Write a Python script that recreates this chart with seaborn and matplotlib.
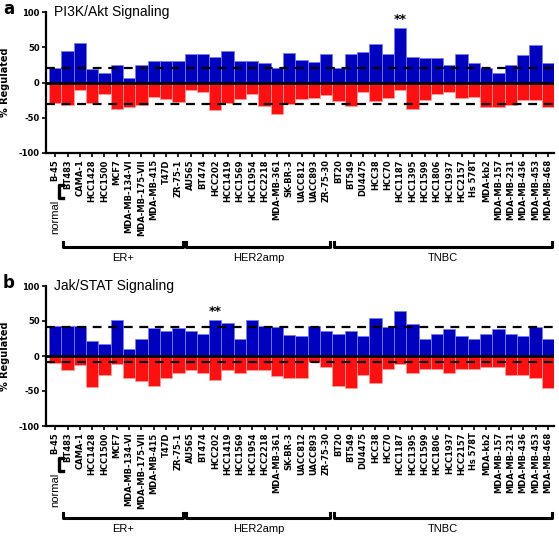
import matplotlib
matplotlib.use("Agg")
import matplotlib.pyplot as plt
import matplotlib.transforms as mtransforms
from matplotlib.lines import Line2D
import pandas as pd
import seaborn as sns

# cell lines (normal + ER+ + HER2amp + TNBC)
cell_lines = [
    "B-45",
    "BT483", "CAMA-1", "HCC1428", "HCC1500", "MCF7", "MDA-MB-134-VI",
    "MDA-MB-175-VII", "MDA-MB-415", "T47D", "ZR-75-1",
    "AU565", "BT474", "HCC202", "HCC1419", "HCC1569", "HCC1954", "HCC2218",
    "MDA-MB-361", "SK-BR-3", "UACC812", "UACC893", "ZR-75-30",
    "BT20", "BT549", "DU4475", "HCC38", "HCC70", "HCC1187", "HCC1395",
    "HCC1599", "HCC1806", "HCC1937", "HCC2157", "Hs 578T", "MDA-kb2",
    "MDA-MB-157", "MDA-MB-231", "MDA-MB-436", "MDA-MB-453", "MDA-MB-468",
]

# groups: (label, first index, last index)
groups = [("ER+", 1, 10), ("HER2amp", 11, 22), ("TNBC", 23, 40)]

# panel a - PI3K/Akt
pi3k_up = [21, 44, 56, 19, 14, 25, 6, 25, 31, 31, 31,
           41, 41, 36, 44, 31, 31, 28, 21, 42, 32, 29, 40,
           21, 41, 43, 55, 40, 77, 36, 35, 35, 25, 40, 28, 20,
           13, 25, 39, 53, 28]
pi3k_down = [-29, -32, -10, -29, -17, -38, -35, -32, -20, -24, -27,
             -10, -13, -39, -29, -24, -17, -34, -45, -30, -24, -22, -18,
             -26, -34, -14, -26, -22, -10, -37, -25, -17, -14, -22, -21, -35,
             -35, -32, -25, -25, -35]
pi3k_cut = (20, -30)
pi3k_star = "HCC1187"

# panel b - Jak/STAT
jak_up = [43, 43, 43, 22, 17, 51, 10, 25, 40, 36, 40,
          36, 32, 51, 47, 25, 51, 43, 41, 30, 28, 43, 36,
          31, 36, 28, 54, 42, 65, 46, 25, 31, 39, 28, 25, 31,
          39, 31, 28, 42, 25]
jak_down = [-10, -20, -13, -44, -27, -12, -31, -35, -43, -31, -24,
            -20, -24, -34, -20, -24, -20, -20, -29, -31, -31, -9, -16,
            -43, -45, -27, -38, -19, -12, -24, -19, -19, -24, -19, -19, -16,
            -16, -27, -27, -31, -45]
jak_cut = (42, -8)
jak_star = "HCC202"

BLUE = "#0000bf"
RED = "#ff1010"

plt.rcParams["font.family"] = ["DejaVu Sans"]

fig = plt.figure(figsize=(5.59, 5.36), dpi=100)
W, H = 559, 536


def fx(px):
    return px / W


def fy(py):
    return 1 - py / H


def draw_panel(rect, letter, title, up, down, cut, star, bracket_y):
    ax = fig.add_axes(rect)
    df = pd.DataFrame({"line": cell_lines, "up": up, "down": down})
    sns.barplot(data=df, x="line", y="up", color=BLUE, width=1.0,
                edgecolor="#7a7aff", linewidth=0.6, saturation=1, ax=ax)
    sns.barplot(data=df, x="line", y="down", color=RED, width=1.0,
                edgecolor="#ff9a9a", linewidth=0.6, saturation=1, ax=ax)
    ax.axhline(0, color="black", lw=2)
    for c in cut:
        ax.axhline(c, color="black", lw=1.6, ls=(0, (4, 3)))
    i = cell_lines.index(star)
    ax.text(i, up[i] + 3, "**", ha="center", va="bottom",
            fontsize=9, fontweight="bold")

    ax.set_xlim(-0.75, 40.5)
    ax.set_ylim(-100, 100)
    ax.set_yticks([-100, -50, 0, 50, 100])
    ax.set_yticklabels(["-100", "-50", "0", "50", "100"],
                       fontsize=6, fontweight="bold")
    ax.set_xlabel("")
    ax.set_ylabel("% Regulated", fontsize=7, fontweight="bold")
    ax.yaxis.set_label_coords(-36 / 508, 0.5)
    ax.set_xticks(range(len(cell_lines)))
    ax.set_xticklabels(cell_lines, rotation=90, fontsize=6,
                       fontweight="bold", ha="center", va="top")
    ax.tick_params(axis="x", length=3, width=1.2, pad=1.5)
    ax.tick_params(axis="y", length=3, width=1.2, pad=1.5)
    for s in ["top", "right"]:
        ax.spines[s].set_visible(False)
    for s in ["left", "bottom"]:
        ax.spines[s].set_linewidth(1.6)

    # panel letter and title
    top_px = (1 - rect[1] - rect[3]) * H
    fig.text(fx(3), fy(top_px - 12), letter, fontsize=12,
             fontweight="bold", va="top", ha="left")
    ax.text(0.015, 1.0, title, transform=ax.transAxes, fontsize=10,
            family="Liberation Sans", va="center", ha="left")

    # normal bracket
    bottom_px = (1 - rect[1]) * H
    b0, b1 = bottom_px + 32, bottom_px + 45
    fig.add_artist(Line2D([fx(63), fx(59), fx(59), fx(63)],
                          [fy(b0), fy(b0), fy(b1), fy(b1)],
                          color="black", lw=2.4))
    fig.text(fx(55), fy(bottom_px + 64), "normal", rotation=90,
             fontsize=8, ha="center", va="center", family="Liberation Sans")

    # group brackets
    trans = mtransforms.blended_transform_factory(ax.transData, fig.transFigure)
    yb = fy(bracket_y)
    yt = fy(bracket_y - 5)
    for name, a, b in groups:
        x0, x1 = a - 0.35, b + 0.35
        fig.add_artist(Line2D([x0, x0, x1, x1], [yt, yb, yb, yt],
                              transform=trans, color="black", lw=2.2,
                              solid_joinstyle="round"))
        fig.text((a + b) / 2, fy(bracket_y + 11), name,
                 transform=trans, fontsize=8, ha="center", va="center",
                 family="Liberation Sans")
    return ax


def rect_from_px(top, bottom, left=46, right=554):
    return [left / W, 1 - bottom / H, (right - left) / W, (bottom - top) / H]


draw_panel(rect_from_px(12, 153), "a", "PI3K/Akt Signaling",
           pi3k_up, pi3k_down, pi3k_cut, pi3k_star, 247)
draw_panel(rect_from_px(286, 426), "b", "Jak/STAT Signaling",
           jak_up, jak_down, jak_cut, jak_star, 518)

fig.savefig("out.png", dpi=100)
